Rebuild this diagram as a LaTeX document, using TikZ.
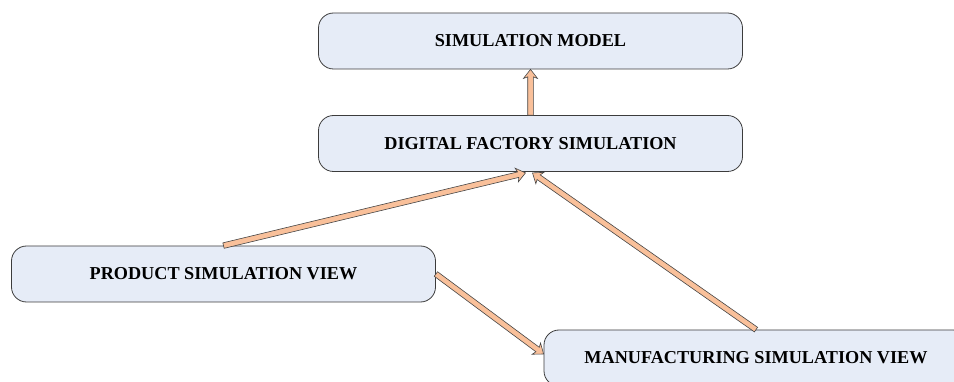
\documentclass[tikz,border=0pt]{standalone}
\usepackage{fontspec}
\setmainfont{Liberation Serif}
\usetikzlibrary{calc}

\definecolor{boxfill}{RGB}{230,236,247}
\definecolor{boxline}{RGB}{60,60,60}
\definecolor{arrowfill}{RGB}{249,192,154}
\definecolor{arrowline}{RGB}{70,70,70}

\tikzset{
  viewbox/.style={draw=boxline, fill=boxfill, line width=0.8pt,
    rounded corners=15pt, minimum width=424pt, minimum height=56pt,
    inner sep=0pt, font=\fontsize{18.2}{20}\selectfont\bfseries},
  fatstyle/.style={fill=arrowfill, draw=arrowline, line width=0.6pt, line join=miter}
}

% Block arrow with outlined shaft and head, from #1 to #2
\newcommand\fatarrow[2]{%
  \path (#1) coordinate (fa-s) (#2) coordinate (fa-e);
  \coordinate (fa-h) at ($(fa-e)!7.5pt!(fa-s)$);
  \coordinate (fa-w) at ($(fa-e)!9pt!(fa-s)$);
  \draw[fatstyle]
    ($(fa-s)!2.8pt!90:(fa-e)$) --
    ($(fa-h)!2.8pt!90:(fa-e)$) --
    ($(fa-w)!7pt!90:(fa-e)$) --
    (fa-e) --
    ($(fa-w)!7pt!-90:(fa-e)$) --
    ($(fa-h)!2.8pt!-90:(fa-e)$) --
    ($(fa-s)!2.8pt!-90:(fa-e)$) -- cycle;
}

\begin{document}
\begin{tikzpicture}[x=1pt, y=-1pt]
  \useasboundingbox (0,0) rectangle (954,382);
  \clip (0,0) rectangle (954,382);

  \node[viewbox] (sm)  at (530.5,41)  {SIMULATION MODEL};
  \node[viewbox] (dfs) at (530.5,143.5) {DIGITAL FACTORY SIMULATION};
  \node[viewbox] (psv) at (223.5,274) {PRODUCT SIMULATION VIEW};
  \node[viewbox] (msv) at (756,358)   {MANUFACTURING SIMULATION VIEW};

  \fatarrow{dfs.north}{sm.south}
  \fatarrow{psv.north}{$(dfs.south)+(-5,1)$}
  \fatarrow{msv.north}{$(dfs.south)+(2,1)$}
  \fatarrow{psv.east}{$(msv.west)+(0,-4)$}
\end{tikzpicture}
\end{document}
